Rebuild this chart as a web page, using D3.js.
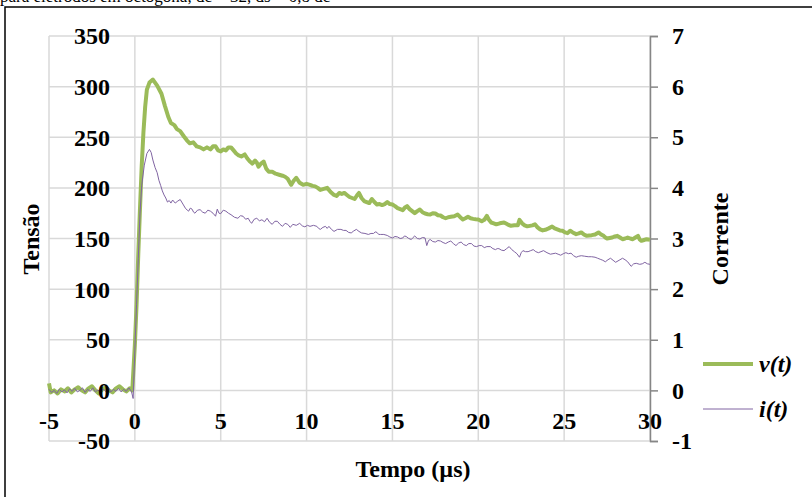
<!DOCTYPE html>
<html>
<head>
<meta charset="utf-8">
<script src="https://cdn.jsdelivr.net/npm/d3@7/dist/d3.min.js"></script>
<style>
  body { margin: 0; background: #fff; }
  svg { display: block; }
  text { font-family: "Liberation Serif", "Times New Roman", serif; }
</style>
</head>
<body>
<div class="chart"></div>
<script>
// tensão v(t) em V (eixo esquerdo)
const vTimes = [-5.0, -4.9, -4.7, -4.5, -4.3, -4.1, -3.9, -3.7, -3.5, -3.3, -3.1, -2.9, -2.7, -2.5, -2.3, -2.1, -1.9, -1.7, -1.5, -1.3, -1.1, -0.9, -0.7, -0.5, -0.3, -0.15,
  0.0, 0.1, 0.2, 0.3, 0.4, 0.5, 0.6, 0.7, 0.85, 1.05, 1.3, 1.55, 1.75, 1.95, 2.1, 2.3, 2.45, 2.64, 2.85, 3.03, 3.2, 3.4, 3.6, 3.8, 4.0, 4.2, 4.4, 4.55, 4.7, 4.85,
  5.0, 5.15, 5.3, 5.45, 5.6, 5.75, 5.9, 6.05, 6.2, 6.4, 6.55, 6.7, 6.85, 7.0, 7.1, 7.2, 7.35, 7.5, 7.65, 7.8, 8.0, 8.2, 8.4, 8.6, 8.75, 8.9, 9.0, 9.1, 9.25, 9.4, 9.6, 9.8,
  10.0, 10.2, 10.35, 10.5, 10.65, 10.8, 11.0, 11.2, 11.4, 11.6, 11.75, 11.9, 12.05, 12.2, 12.35, 12.5, 12.65, 12.8, 12.95, 13.05, 13.2, 13.35, 13.5, 13.65, 13.8, 13.95,
  14.1, 14.25, 14.4, 14.55, 14.7, 14.85, 15.0, 15.15, 15.3, 15.45, 15.6, 15.75, 15.85, 16.0, 16.15, 16.3, 16.45, 16.6, 16.75, 16.9, 17.05, 17.2, 17.35, 17.5, 17.65, 17.8,
  17.95, 18.1, 18.25, 18.4, 18.6, 18.8, 18.95, 19.1, 19.25, 19.4, 19.55, 19.7, 19.85, 20.0, 20.2, 20.35, 20.5, 20.6, 20.75, 20.9, 21.05, 21.25, 21.5, 21.7, 21.9, 22.1,
  22.3, 22.4, 22.55, 22.7, 22.85, 23.0, 23.15, 23.3, 23.45, 23.6, 23.75, 23.9, 24.1, 24.3, 24.45, 24.6, 24.75, 24.9, 25.05, 25.2, 25.35, 25.5, 25.7, 25.85, 26.0, 26.15,
  26.3, 26.45, 26.6, 26.8, 27.0, 27.15, 27.3, 27.4, 27.5, 27.65, 27.8, 27.95, 28.1, 28.25, 28.4, 28.55, 28.7, 28.85, 29.0, 29.15, 29.3, 29.4, 29.5, 29.65, 29.8, 30.0];
const vValues = [7, -2, 0, -3, 1, -1, 2, -2, 1, 3, 0, -2, 2, 4, 0, -3, 1, 3, 0, -2, 2, 4, 1, -1, 2, 0,
  45, 85, 135, 180, 222, 255, 280, 297, 304, 307, 301, 293, 281, 270, 264, 262, 258, 256, 251, 247, 244, 245, 241, 240, 238, 240, 238, 241, 241, 237,
  236, 238, 237, 240, 240, 237, 234, 232, 231, 233, 229, 226, 224, 227, 225, 221, 224, 226, 219, 216, 216, 214, 213, 212, 211, 209, 206, 203, 207, 210, 205, 203,
  204, 203, 202, 201.5, 200, 198, 199, 200, 196, 193, 192, 195, 194, 195, 193, 191, 190, 189, 193, 195, 190, 187, 186, 185, 189, 186,
  183.5, 184, 183, 184, 186, 184, 183.5, 182, 180, 179, 178, 181, 182, 179, 177, 175, 177, 178.6, 176, 174.7, 174, 173.7, 175, 174.7, 173, 172.7,
  171, 170, 171, 171.4, 172, 173.7, 171, 168.8, 170, 171.4, 170, 169.4, 169, 168.8, 167, 168.4, 172.4, 169, 165.8, 165, 164, 165, 165.8, 164, 162.5, 163,
  163, 168.4, 165, 163, 162, 162.5, 163, 164, 161, 159, 158, 158.6, 160, 161.8, 160, 159, 158, 157.6, 156, 155.3, 157.6, 156, 154.3, 155, 156, 154,
  152.6, 153, 153.3, 154, 156, 154, 152.6, 151, 150, 150.5, 151, 152, 152.6, 151, 149.3, 150, 151, 150, 149.3, 151, 152.6, 149, 147.7, 148.5, 149.3, 148.7];

// corrente i(t) em A (eixo direito)
const iTimes = [-5.0, -4.85, -4.7, -4.55, -4.4, -4.25, -4.1, -3.95, -3.8, -3.65, -3.5, -3.35, -3.2, -3.05, -2.9, -2.75, -2.6, -2.45, -2.3, -2.15, -2.0, -1.85, -1.7, -1.55,
  -1.4, -1.25, -1.1, -0.95, -0.8, -0.65, -0.5, -0.35, -0.2, -0.1, 0.0, 0.1, 0.2, 0.3, 0.4, 0.55, 0.7, 0.85, 0.95, 1.05, 1.18, 1.3, 1.4, 1.5, 1.6, 1.7, 1.8, 1.9,
  2.0, 2.1, 2.2, 2.35, 2.5, 2.64, 2.8, 2.94, 3.05, 3.13, 3.23, 3.33, 3.42, 3.5, 3.65, 3.8, 3.95, 4.1, 4.25, 4.4, 4.55, 4.7, 4.8, 4.9, 5.0, 5.15, 5.3, 5.45, 5.6, 5.8,
  6.0, 6.15, 6.3, 6.45, 6.6, 6.7, 6.8, 6.95, 7.1, 7.25, 7.4, 7.55, 7.7, 7.85, 8.0, 8.15, 8.3, 8.45, 8.6, 8.75, 8.9, 9.05, 9.2, 9.4, 9.6, 9.75, 9.9,
  10.05, 10.2, 10.4, 10.6, 10.7, 10.8, 10.95, 11.1, 11.2, 11.3, 11.45, 11.6, 11.8, 12.0, 12.15, 12.3, 12.45, 12.6, 12.75, 12.9, 13.05, 13.2, 13.4, 13.6, 13.75, 13.9,
  14.0, 14.1, 14.2, 14.3, 14.5, 14.7, 14.85, 15.0, 15.15, 15.3, 15.45, 15.6, 15.7, 15.8, 15.95, 16.1, 16.2, 16.3, 16.45, 16.6, 16.75, 16.9, 17.0, 17.1, 17.2, 17.35,
  17.5, 17.65, 17.8, 17.95, 18.1, 18.25, 18.4, 18.55, 18.7, 18.85, 19.0, 19.15, 19.3, 19.45, 19.6, 19.75, 19.9, 20.05, 20.2, 20.35, 20.5, 20.7, 20.85, 21.0,
  21.1, 21.2, 21.35, 21.5, 21.65, 21.8, 21.95, 22.1, 22.25, 22.4, 22.5, 22.6, 22.75, 22.9, 23.05, 23.2, 23.35, 23.5, 23.65, 23.8, 24.0, 24.2, 24.35, 24.5, 24.65,
  24.8, 24.95, 25.1, 25.25, 25.4, 25.55, 25.7, 25.85, 26.0, 26.2, 26.4, 26.6, 26.8, 26.95, 27.1, 27.25, 27.4, 27.55, 27.7, 27.85, 28.0, 28.2, 28.4, 28.55, 28.7,
  28.9, 29.05, 29.2, 29.4, 29.55, 29.7, 29.85, 30.0];
const iValues = [0.02, -0.04, 0.0, -0.06, 0.02, -0.03, 0.01, -0.05, 0.03, -0.02, 0.04, -0.03, 0.0, 0.05, -0.04, 0.02, -0.02, 0.05, -0.03, 0.01, -0.05, 0.03, -0.02, 0.06,
  -0.03, 0.02, -0.02, 0.04, -0.03, 0.02, -0.02, 0.05, -0.02, -0.16, 0.8, 1.7, 2.6, 3.5, 4.05, 4.45, 4.68, 4.76, 4.7, 4.55, 4.4, 4.3, 4.15, 4.05, 3.94, 3.86, 3.8, 3.72,
  3.75, 3.7, 3.76, 3.7, 3.74, 3.77, 3.68, 3.6, 3.56, 3.54, 3.6, 3.58, 3.52, 3.5, 3.56, 3.57, 3.52, 3.5, 3.56, 3.54, 3.5, 3.44, 3.58, 3.5, 3.49, 3.56, 3.54, 3.5, 3.47, 3.42,
  3.4, 3.45, 3.44, 3.38, 3.4, 3.34, 3.3, 3.38, 3.4, 3.35, 3.37, 3.33, 3.4, 3.32, 3.28, 3.34, 3.34, 3.28, 3.24, 3.3, 3.28, 3.22, 3.28, 3.26, 3.3, 3.25, 3.23,
  3.26, 3.24, 3.26, 3.24, 3.2, 3.18, 3.22, 3.24, 3.2, 3.24, 3.18, 3.14, 3.18, 3.18, 3.16, 3.16, 3.12, 3.11, 3.15, 3.18, 3.14, 3.11, 3.1, 3.08, 3.1, 3.1,
  3.13, 3.12, 3.08, 3.08, 3.08, 3.06, 3.03, 3.01, 3.04, 3.03, 3.0, 3.01, 3.05, 3.04, 3.0, 2.98, 3.02, 3.05, 3.0, 2.99, 3.02, 3.01, 2.86, 2.96, 2.98, 2.94,
  2.93, 2.96, 2.95, 2.92, 2.9, 2.93, 2.95, 2.9, 2.86, 2.91, 2.93, 2.88, 2.86, 2.9, 2.9, 2.85, 2.84, 2.86, 2.86, 2.82, 2.84, 2.84, 2.8, 2.78,
  2.8, 2.8, 2.77, 2.76, 2.8, 2.84, 2.78, 2.74, 2.7, 2.63, 2.72, 2.76, 2.74, 2.74, 2.76, 2.78, 2.74, 2.72, 2.74, 2.76, 2.72, 2.69, 2.7, 2.71, 2.69,
  2.67, 2.7, 2.72, 2.7, 2.71, 2.66, 2.63, 2.65, 2.66, 2.65, 2.64, 2.64, 2.63, 2.61, 2.59, 2.57, 2.54, 2.58, 2.61, 2.57, 2.53, 2.57, 2.61, 2.58, 2.54,
  2.45, 2.5, 2.51, 2.49, 2.5, 2.53, 2.5, 2.49];

const xTicks = [-5, 0, 5, 10, 15, 20, 25, 30];
const yLeftTicks = [-50, 0, 50, 100, 150, 200, 250, 300, 350];
const yRightTicks = [-1, 0, 1, 2, 3, 4, 5, 6, 7];

const W = 812, H = 497;
const plot = { left: 49, right: 650, top: 36, bottom: 441 };

const svg = d3.select(".chart").append("svg")
  .attr("width", W).attr("height", H);

// moldura e legenda cortada no topo
svg.append("rect")
  .attr("x", 5).attr("y", 7).attr("width", 900).attr("height", 600)
  .attr("fill", "none").attr("stroke", "#000").attr("stroke-width", 1.5);
svg.append("text")
  .attr("x", 0).attr("y", 2)
  .attr("font-size", 17)
  .text("para eletrodos em octógona, dc = 32, ds = 0,8 dc");

const x = d3.scaleLinear().domain([-5, 30]).range([plot.left, plot.right]);
const yL = d3.scaleLinear().domain([-50, 350]).range([plot.bottom, plot.top]);
const yR = d3.scaleLinear().domain([-1, 7]).range([plot.bottom, plot.top]);

// grade
const grid = svg.append("g").attr("stroke", "#d9d9d9").attr("stroke-width", 1.5);
grid.selectAll(".h").data(yLeftTicks).enter().append("line")
  .attr("x1", plot.left).attr("x2", plot.right)
  .attr("y1", d => yL(d)).attr("y2", d => yL(d));
grid.selectAll(".v").data(xTicks).enter().append("line")
  .attr("y1", plot.top).attr("y2", plot.bottom)
  .attr("x1", d => x(d)).attr("x2", d => x(d));

// eixo direito
const rAxis = svg.append("g").attr("transform", "translate(" + plot.right + ",0)")
  .call(d3.axisRight(yR).tickValues(yRightTicks).tickSize(8).tickPadding(14).tickFormat(d => String(d)));
rAxis.select(".domain").attr("stroke", "#868686").attr("stroke-width", 1.5);
rAxis.selectAll(".tick line").attr("stroke", "#868686").attr("stroke-width", 1.5);
rAxis.selectAll(".tick text")
  .attr("fill", "#000").attr("font-size", 24).attr("font-weight", "bold")
  .attr("font-family", "Liberation Serif, serif");

// séries
const vData = vTimes.map((t, k) => [t, vValues[k]]);
const iData = iTimes.map((t, k) => [t, iValues[k]]);

svg.append("path").datum(vData)
  .attr("fill", "none").attr("stroke", "#9bbb59").attr("stroke-width", 4)
  .attr("stroke-linejoin", "round")
  .attr("d", d3.line().x(d => x(d[0])).y(d => yL(d[1])));
svg.append("path").datum(iData)
  .attr("fill", "none").attr("stroke", "#8064a2").attr("stroke-width", 1)
  .attr("d", d3.line().x(d => x(d[0])).y(d => yR(d[1])));

// rótulos do eixo esquerdo (junto ao eixo em x = 0)
svg.append("g").selectAll("text").data(yLeftTicks).enter().append("text")
  .attr("x", 110).attr("y", d => yL(d)).attr("dy", "0.35em")
  .attr("text-anchor", "end").attr("font-size", 24).attr("font-weight", "bold")
  .text(d => d);

// rótulos do eixo x (junto à linha y = 0)
svg.append("g").selectAll("text").data(xTicks).enter().append("text")
  .attr("x", d => x(d)).attr("y", 429)
  .attr("text-anchor", "middle").attr("font-size", 24).attr("font-weight", "bold")
  .text(d => d);

// títulos
svg.append("text")
  .attr("transform", "translate(31,239) rotate(-90)").attr("dy", "0.35em")
  .attr("text-anchor", "middle").attr("font-size", 24).attr("font-weight", "bold")
  .text("Tensão");
svg.append("text")
  .attr("transform", "translate(720,239) rotate(-90)").attr("dy", "0.35em")
  .attr("text-anchor", "middle").attr("font-size", 24).attr("font-weight", "bold")
  .text("Corrente");
svg.append("text")
  .attr("x", 413).attr("y", 477)
  .attr("text-anchor", "middle").attr("font-size", 24).attr("font-weight", "bold")
  .text("Tempo (µs)");

// legenda
const legend = [
  { name: "v(t)", color: "#9bbb59", width: 4, y: 364 },
  { name: "i(t)", color: "#8064a2", width: 1, y: 409 }
];
const lg = svg.append("g").selectAll("g").data(legend).enter().append("g");
lg.append("line")
  .attr("x1", 703).attr("x2", 753).attr("y1", d => d.y).attr("y2", d => d.y)
  .attr("stroke", d => d.color).attr("stroke-width", d => d.width);
lg.append("text")
  .attr("x", 759).attr("y", d => d.y).attr("dy", "0.35em")
  .attr("font-size", 24).attr("font-weight", "bold").attr("font-style", "italic")
  .text(d => d.name);
</script>
</body>
</html>
